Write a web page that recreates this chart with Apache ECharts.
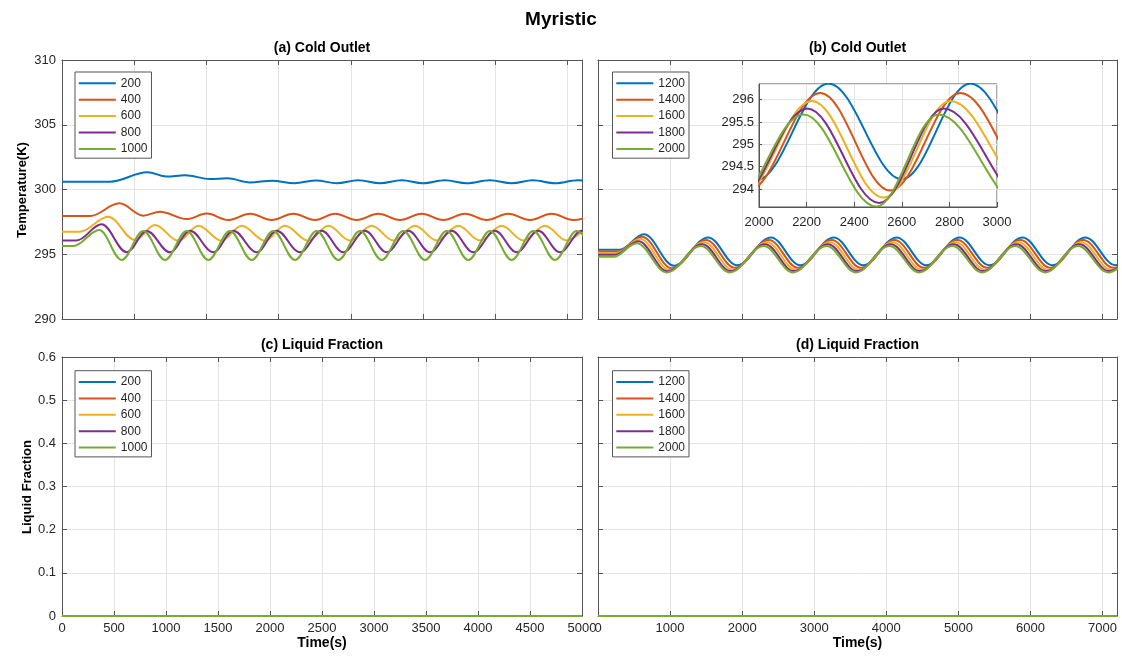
<!DOCTYPE html>
<html><head><meta charset="utf-8">
<script src="https://cdn.jsdelivr.net/npm/echarts@6/dist/echarts.min.js"></script>
<style>html,body{margin:0;padding:0;background:#fff}#c{width:1122px;height:660px}</style>
</head><body><div id="c"></div>
<script>
const FONT = "'Liberation Sans', Arial, Helvetica, sans-serif";
const namesLeft = ['200', '400', '600', '800', '1000'];
const namesRight = ['1200', '1400', '1600', '1800', '2000'];
const colors = ['#0072BD', '#D95319', '#EDB120', '#7E2F8E', '#77AC30'];

// (a) Cold Outlet, [time s, temperature K] (local peaks / troughs)
const a200 = [[0,300.6],[665,300.6],[1181,301.33],[1449,301.0],[1704,301.1],[2049,300.81],[2290,300.86],[2602,300.55],[2909,300.68],[3218,300.49],[3521,300.7],[3804,300.48],[4103,300.71],[4403,300.48],[4704,300.71],[4998,300.48],[5303,300.71],[5603,300.48],[5926,300.71],[6227,300.48],[6521,300.71],[6826,300.48],[7145,300.71],[7445,300.48]];
const a400 = [[0,297.95],[389,297.95],[793,298.93],[1126,297.98],[1356,298.29],[1727,297.72],[2003,298.14],[2303,297.64],[2604,298.12],[2903,297.64],[3203,298.12],[3504,297.64],[3780,298.12],[4080,297.64],[4379,298.12],[4680,297.64],[4980,298.12],[5279,297.64],[5580,298.12],[5880,297.64],[6180,298.12],[6480,297.64],[6780,298.12],[7080,297.64],[7380,298.12]];
const a600 = [[0,296.74],[245,296.74],[641,297.9],[1011,296.1],[1287,297.26],[1611,296.04],[1888,297.2],[2210,296.05],[2488,297.2],[2811,296.05],[3087,297.2],[3410,296.05],[3688,297.2],[3987,296.07],[4288,297.2],[4588,296.07],[4887,297.2],[5188,296.07],[5488,297.2],[5787,296.07],[6088,297.2],[6388,296.07],[6687,297.2],[6988,296.07],[7288,297.2]];
const a800 = [[0,296.07],[202,296.07],[549,297.31],[896,295.15],[1172,296.8],[1495,295.15],[1773,296.82],[2095,295.15],[2372,296.82],[2696,295.15],[2972,296.82],[3295,295.15],[3596,296.82],[3895,295.15],[4195,296.82],[4496,295.15],[4795,296.82],[5095,295.15],[5396,296.82],[5695,295.15],[5995,296.82],[6296,295.15],[6595,296.82],[6895,295.15],[7196,296.82],[7495,295.15]];
const a1000 = [[0,295.64],[158,295.64],[517,296.87],[827,294.56],[1126,296.8],[1426,294.56],[1727,296.8],[2026,294.56],[2326,296.8],[2627,294.56],[2926,296.8],[3226,294.56],[3527,296.8],[3826,294.56],[4127,296.8],[4427,294.56],[4726,296.8],[5026,294.56],[5327,296.8],[5626,294.56],[5926,296.8],[6227,294.56],[6526,296.8],[6826,294.56],[7127,296.8],[7426,294.56]];

// (b) Cold Outlet
const b1200 = [[0,295.35],[300,295.35],[637,296.54],[1054,294.12],[1528,296.3],[1929,294.15],[2400,296.3],[2804,294.15],[3272,296.3],[3679,294.15],[4144,296.3],[4554,294.15],[5016,296.3],[5429,294.15],[5888,296.3],[6304,294.15],[6760,296.3],[7179,294.15],[7630,296.3]];
const b1400 = [[0,295.22],[280,295.22],[610,296.35],[1024,293.92],[1500,296.1],[1899,293.95],[2372,296.1],[2774,293.95],[3244,296.1],[3649,293.95],[4116,296.1],[4524,293.95],[4988,296.1],[5399,293.95],[5860,296.1],[6274,293.95],[6732,296.1],[7149,293.95],[7602,296.1]];
const b1600 = [[0,295.1],[260,295.1],[585,296.17],[994,293.78],[1472,295.93],[1869,293.8],[2344,295.93],[2744,293.8],[3216,295.93],[3619,293.8],[4088,295.93],[4494,293.8],[4960,295.93],[5369,293.8],[5832,295.93],[6244,293.8],[6704,295.93],[7119,293.8],[7574,295.93]];
const b1800 = [[0,294.97],[240,294.97],[560,296.0],[964,293.68],[1448,295.77],[1839,293.7],[2320,295.77],[2714,293.7],[3192,295.77],[3589,293.7],[4064,295.77],[4464,293.7],[4936,295.77],[5339,293.7],[5808,295.77],[6214,293.7],[6680,295.77],[7089,293.7],[7550,295.77]];
const b2000 = [[0,294.8],[220,294.8],[535,295.85],[954,293.6],[1428,295.63],[1829,293.6],[2300,295.63],[2704,293.6],[3172,295.63],[3579,293.6],[4044,295.63],[4454,293.6],[4916,295.63],[5329,293.6],[5788,295.63],[6204,293.6],[6660,295.63],[7079,293.6],[7530,295.63]];

// inset of (b), 2000-3000 s (extrema just outside the window are estimates, clipped)
const i1200 = [[1690,296.36],[1990,294.2],[2292,296.36],[2600,294.22],[2888,296.36],[3203,294.22],[3500,296.36]];
const i1400 = [[1660,296.15],[1955,293.97],[2257,296.15],[2551,293.97],[2846,296.15],[3175,293.97],[3470,296.15]];
const i1600 = [[1625,295.97],[1920,293.81],[2222,295.97],[2523,293.81],[2804,295.97],[3158,293.81],[3450,295.97]];
const i1800 = [[1600,295.8],[1900,293.69],[2203,295.8],[2505,293.69],[2776,295.8],[3130,293.69],[3420,295.8]];
const i2000 = [[1575,295.67],[1880,293.61],[2187,295.67],[2492,293.61],[2755,295.67],[3110,293.61],[3400,295.67]];

// (c), (d) Liquid Fraction
const c200 = [[0,0],[5000,0]], c400 = [[0,0],[5000,0]], c600 = [[0,0],[5000,0]], c800 = [[0,0],[5000,0]], c1000 = [[0,0],[5000,0]];
const d1200 = [[0,0],[7200,0]], d1400 = [[0,0],[7200,0]], d1600 = [[0,0],[7200,0]], d1800 = [[0,0],[7200,0]], d2000 = [[0,0],[7200,0]];

const AX = '#555';
const GRIDC = '#e3e3e3';
const LBL = '#262626';
const plain = v => String(+v.toFixed(4));

function xAx(gi, min, max, interval, showLabel, extra) {
  return Object.assign({
    type: 'value', gridIndex: gi, min, max, interval, position: 'bottom',
    axisLine: { show: true, onZero: false, lineStyle: { color: AX, width: 1 } },
    axisTick: { show: true, inside: true, length: 5, lineStyle: { color: AX } },
    axisLabel: { show: showLabel, color: LBL, fontSize: 13, fontFamily: FONT, margin: 6, formatter: plain, showMaxLabel: max % interval === 0 },
    splitLine: { show: true, lineStyle: { color: GRIDC, width: 1 } }
  }, extra || {});
}
function yAx(gi, min, max, interval, showLabel, extra) {
  return Object.assign({
    type: 'value', gridIndex: gi, min, max, interval, position: 'left',
    axisLine: { show: true, onZero: false, lineStyle: { color: AX, width: 1 } },
    axisTick: { show: true, inside: true, length: 5, lineStyle: { color: AX } },
    axisLabel: { show: showLabel, color: LBL, fontSize: 13, fontFamily: FONT, margin: 6, formatter: plain },
    splitLine: { show: true, lineStyle: { color: GRIDC, width: 1 } }
  }, extra || {});
}
function boxX(gi, min, max, interval) {
  return { type: 'value', gridIndex: gi, min, max, interval, position: 'top',
    axisLine: { show: true, onZero: false, lineStyle: { color: AX, width: 1 } },
    axisTick: { show: true, inside: true, length: 5, lineStyle: { color: AX } },
    axisLabel: { show: false }, splitLine: { show: false } };
}
function boxY(gi, min, max, interval) {
  return { type: 'value', gridIndex: gi, min, max, interval, position: 'right',
    axisLine: { show: true, onZero: false, lineStyle: { color: AX, width: 1 } },
    axisTick: { show: true, inside: true, length: 5, lineStyle: { color: AX } },
    axisLabel: { show: false }, splitLine: { show: false } };
}

const series = [];
function addLines(list, names, xi, yi, z) {
  list.forEach((d, k) => series.push({
    type: 'line', name: names[k], data: d, xAxisIndex: xi, yAxisIndex: yi,
    symbol: 'none', showSymbol: false, smooth: 0.363, smoothMonotone: 'x', clip: true,
    lineStyle: { width: 2, color: colors[k] }, itemStyle: { color: colors[k] },
    z: z, animation: false, emphasis: { disabled: true }
  }));
}
addLines([a200, a400, a600, a800, a1000], namesLeft, 0, 0, 2);
addLines([b1200, b1400, b1600, b1800, b2000], namesRight, 1, 1, 2);
addLines([c200, c400, c600, c800, c1000], namesLeft, 2, 2, 2);
addLines([d1200, d1400, d1600, d1800, d2000], namesRight, 3, 3, 2);
addLines([i1200, i1400, i1600, i1800, i2000], namesRight, 4, 4, 7);

function legend(left, top, names) {
  return { left, top, orient: 'vertical', data: names, icon: 'rect', itemWidth: 37, itemHeight: 2,
    itemGap: 4.4, padding: [5.3, 4, 3.3, 3.8], borderColor: AX, borderWidth: 1, backgroundColor: '#fff',
    selectedMode: false, z: 10,
    textStyle: { fontSize: 12, color: LBL, fontFamily: FONT, lineHeight: 12 } };
}

function txt(x, y, s, size, rot) {
  return { type: 'text', x, y, rotation: rot || 0, z: 20,
    style: { text: s, font: 'bold ' + size + 'px ' + FONT, fill: '#000',
      textAlign: 'center', textVerticalAlign: 'middle', align: 'center', verticalAlign: 'middle' } };
}

const option = {
  animation: false,
  backgroundColor: '#fff',
  grid: [
    { left: 62, top: 60, width: 520, height: 259 },
    { left: 598, top: 60, width: 519, height: 259 },
    { left: 62, top: 357, width: 520, height: 259 },
    { left: 598, top: 357, width: 519, height: 259 },
    { left: 759, top: 84, width: 238, height: 123, show: true, backgroundColor: '#fff', borderColor: AX, borderWidth: 1, z: 5 }
  ],
  xAxis: [
    xAx(0, 0, 7200, 1000, false),
    xAx(1, 0, 7200, 1000, false),
    xAx(2, 0, 5000, 500, true),
    xAx(3, 0, 7200, 1000, true),
    xAx(4, 2000, 3000, 200, true, { z: 6, axisLabel: { show: true, color: LBL, fontSize: 13, fontFamily: FONT, margin: 9, formatter: plain } }),
    boxX(0, 0, 7200, 1000), boxX(1, 0, 7200, 1000), boxX(2, 0, 5000, 500), boxX(3, 0, 7200, 1000)
  ],
  yAxis: [
    yAx(0, 290, 310, 5, true),
    yAx(1, 290, 310, 5, false),
    yAx(2, 0, 0.6, 0.1, true),
    yAx(3, 0, 0.6, 0.1, false),
    yAx(4, 293.6, 296.35, undefined, true, { z: 6, axisTick: { show: true, inside: true, length: 3, lineStyle: { color: AX } },
      axisLabel: { show: true, color: LBL, fontSize: 13, fontFamily: FONT, margin: 5, formatter: plain, showMinLabel: false, showMaxLabel: false } }),
    boxY(0, 290, 310, 5), boxY(1, 290, 310, 5), boxY(2, 0, 0.6, 0.1), boxY(3, 0, 0.6, 0.1)
  ],
  legend: [
    legend(75, 72, namesLeft),
    legend(612.5, 72, namesRight),
    legend(75, 370.7, namesLeft),
    legend(612.5, 370.7, namesRight)
  ],
  graphic: [
    txt(561, 20, 'Myristic', 19),
    txt(322, 48, '(a) Cold Outlet', 14),
    txt(857.5, 48, '(b) Cold Outlet', 14),
    txt(322, 345, '(c) Liquid Fraction', 14),
    txt(857.5, 345, '(d) Liquid Fraction', 14),
    txt(322, 643, 'Time(s)', 14),
    txt(857.5, 643, 'Time(s)', 14),
    txt(22, 190, 'Temperature(K)', 13, Math.PI / 2),
    txt(27, 487, 'Liquid Fraction', 13, Math.PI / 2)
  ],
  series
};
const chart = echarts.init(document.getElementById('c'), null, { renderer: 'canvas' });
chart.setOption(option);
</script></body></html>
